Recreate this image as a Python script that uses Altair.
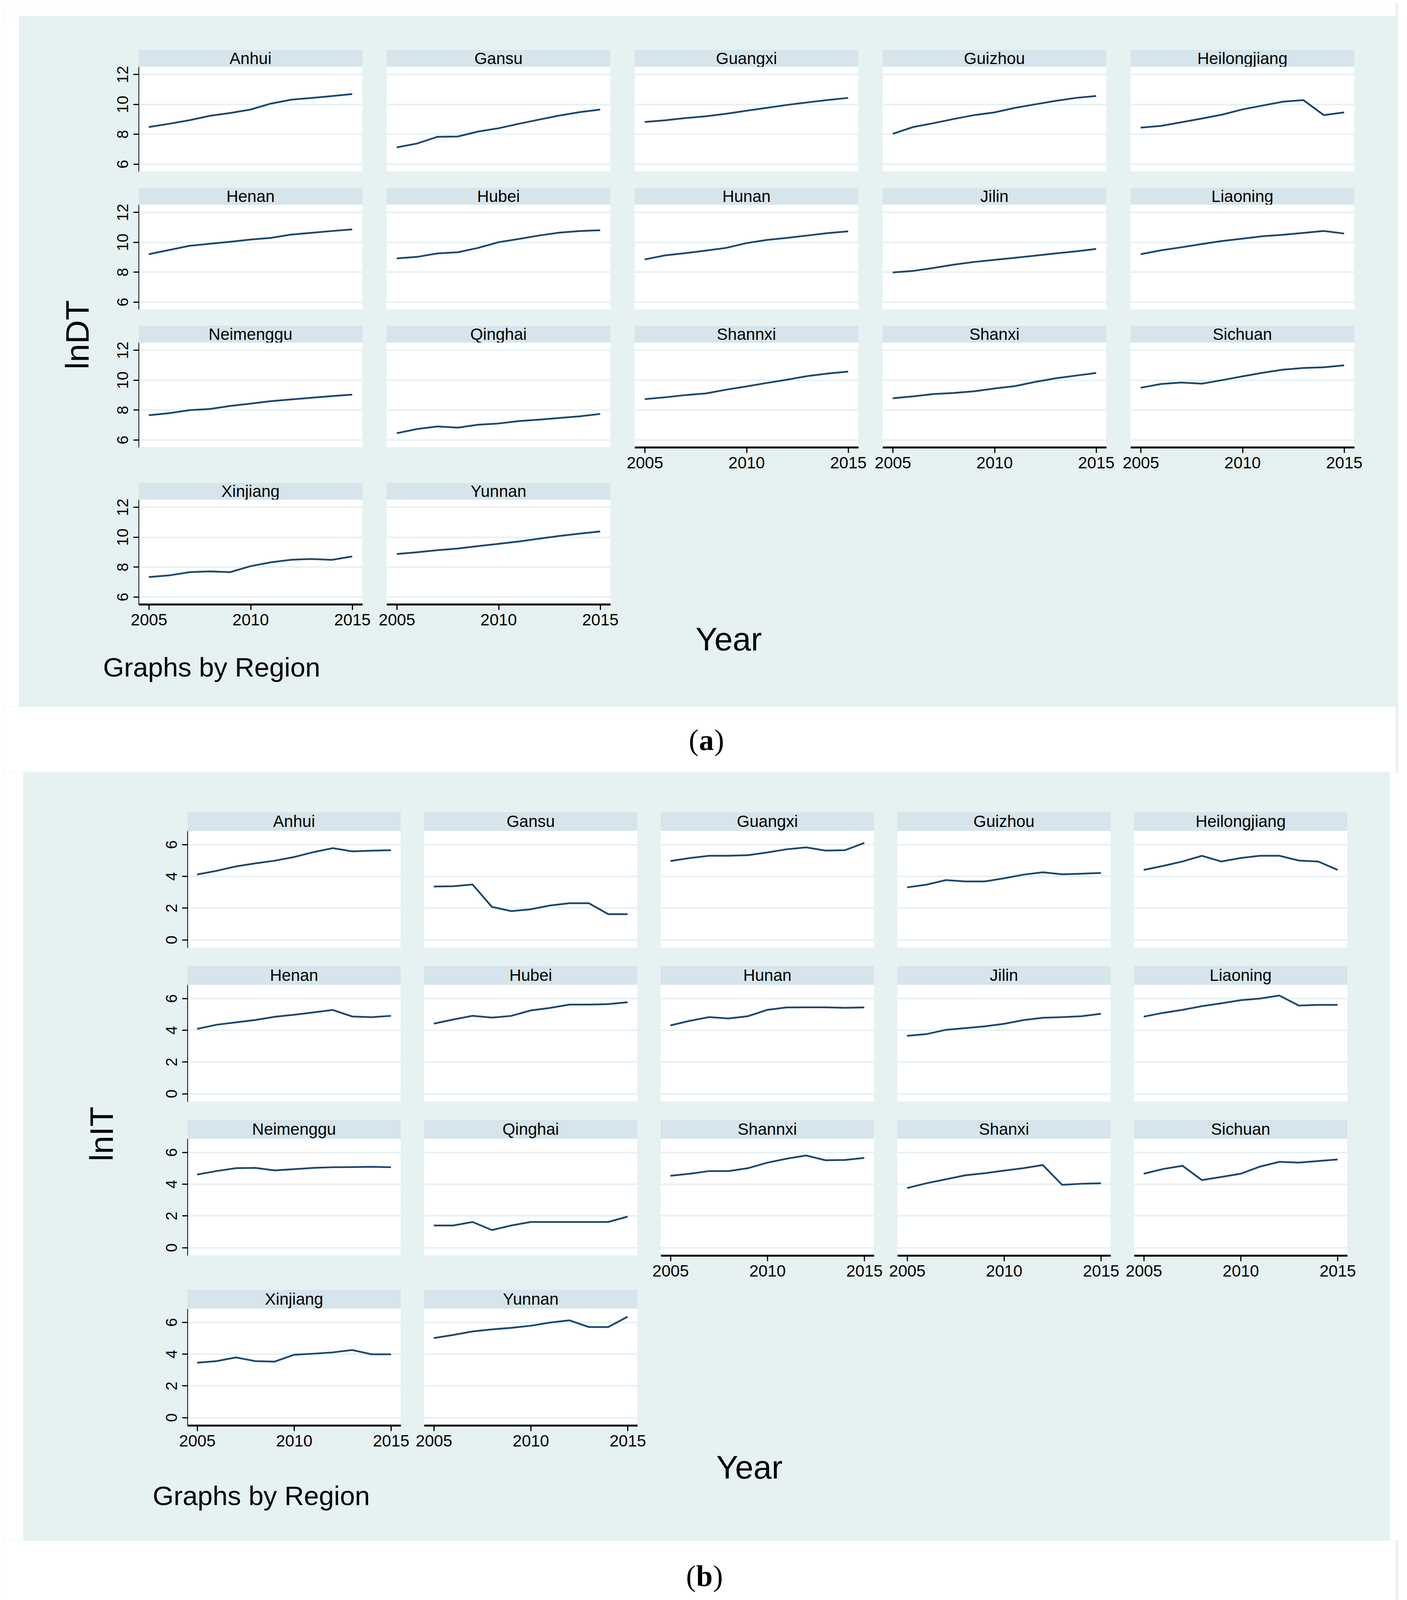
import altair as alt
import pandas as pd

# ---------------- data ----------------
YEARS = list(range(2005, 2016))
REGIONS = ["Anhui", "Gansu", "Guangxi", "Guizhou", "Heilongjiang",
           "Henan", "Hubei", "Hunan", "Jilin", "Liaoning",
           "Neimenggu", "Qinghai", "Shannxi", "Shanxi", "Sichuan",
           "Xinjiang", "Yunnan"]

# lnDT (panel a)
DT_ANHUI = [8.47, 8.69, 8.93, 9.22, 9.41, 9.64, 10.04, 10.30, 10.42, 10.54, 10.68]
DT_GANSU = [7.11, 7.37, 7.82, 7.84, 8.17, 8.39, 8.69, 8.97, 9.24, 9.47, 9.64]
DT_GUANGXI = [8.81, 8.92, 9.07, 9.19, 9.36, 9.56, 9.76, 9.95, 10.12, 10.28, 10.42]
DT_GUIZHOU = [8.02, 8.47, 8.73, 9.01, 9.27, 9.45, 9.75, 9.99, 10.22, 10.42, 10.55]
DT_HEILONGJIANG = [8.43, 8.55, 8.79, 9.04, 9.30, 9.65, 9.91, 10.17, 10.27, 9.27, 9.45]
DT_HENAN = [9.19, 9.47, 9.75, 9.89, 10.02, 10.17, 10.28, 10.50, 10.62, 10.74, 10.85]
DT_HUBEI = [8.91, 9.01, 9.24, 9.32, 9.61, 9.99, 10.21, 10.44, 10.63, 10.74, 10.79]
DT_HUNAN = [8.84, 9.11, 9.26, 9.43, 9.61, 9.93, 10.14, 10.28, 10.44, 10.60, 10.72]
DT_JILIN = [7.97, 8.07, 8.27, 8.49, 8.67, 8.81, 8.95, 9.09, 9.24, 9.38, 9.54]
DT_LIAONING = [9.19, 9.45, 9.65, 9.87, 10.07, 10.23, 10.39, 10.49, 10.61, 10.74, 10.57]
DT_NEIMENGGU = [7.64, 7.78, 7.98, 8.06, 8.26, 8.42, 8.58, 8.70, 8.81, 8.92, 9.02]
DT_QINGHAI = [6.44, 6.72, 6.89, 6.81, 7.01, 7.09, 7.25, 7.35, 7.46, 7.57, 7.73]
DT_SHANNXI = [8.72, 8.84, 8.99, 9.10, 9.35, 9.57, 9.80, 10.02, 10.26, 10.43, 10.56]
DT_SHANXI = [8.78, 8.90, 9.06, 9.13, 9.24, 9.43, 9.59, 9.87, 10.11, 10.29, 10.47]
DT_SICHUAN = [9.48, 9.73, 9.83, 9.75, 9.99, 10.24, 10.48, 10.69, 10.80, 10.85, 10.98]
DT_XINJIANG = [7.32, 7.43, 7.65, 7.70, 7.65, 8.05, 8.31, 8.48, 8.53, 8.47, 8.70]
DT_YUNNAN = [8.86, 8.98, 9.12, 9.23, 9.39, 9.54, 9.70, 9.89, 10.07, 10.23, 10.37]

# lnIT (panel b)
IT_ANHUI = [4.11, 4.34, 4.62, 4.81, 4.98, 5.21, 5.52, 5.77, 5.57, 5.61, 5.64]
IT_GANSU = [3.35, 3.37, 3.48, 2.07, 1.80, 1.92, 2.16, 2.30, 2.30, 1.61, 1.61]
IT_GUANGXI = [4.96, 5.15, 5.29, 5.29, 5.33, 5.50, 5.70, 5.82, 5.62, 5.64, 6.10]
IT_GUIZHOU = [3.30, 3.47, 3.76, 3.67, 3.67, 3.87, 4.10, 4.25, 4.12, 4.16, 4.21]
IT_HEILONGJIANG = [4.40, 4.65, 4.93, 5.29, 4.93, 5.15, 5.29, 5.29, 4.99, 4.93, 4.40]
IT_HENAN = [4.08, 4.34, 4.49, 4.64, 4.84, 4.97, 5.12, 5.27, 4.86, 4.82, 4.90]
IT_HUBEI = [4.41, 4.67, 4.90, 4.79, 4.90, 5.24, 5.40, 5.61, 5.61, 5.64, 5.76]
IT_HUNAN = [4.30, 4.59, 4.82, 4.74, 4.88, 5.28, 5.43, 5.44, 5.44, 5.41, 5.43]
IT_JILIN = [3.64, 3.75, 4.02, 4.13, 4.24, 4.40, 4.63, 4.78, 4.82, 4.88, 5.03]
IT_LIAONING = [4.85, 5.09, 5.28, 5.51, 5.69, 5.89, 5.99, 6.18, 5.55, 5.59, 5.59]
IT_NEIMENGGU = [4.60, 4.82, 5.00, 5.02, 4.86, 4.94, 5.02, 5.06, 5.07, 5.09, 5.06]
IT_QINGHAI = [1.39, 1.39, 1.61, 1.10, 1.39, 1.61, 1.61, 1.61, 1.61, 1.61, 1.95]
IT_SHANNXI = [4.52, 4.65, 4.82, 4.82, 5.00, 5.35, 5.60, 5.80, 5.50, 5.52, 5.65]
IT_SHANXI = [3.75, 4.05, 4.30, 4.55, 4.68, 4.85, 5.00, 5.20, 3.95, 4.02, 4.05]
IT_SICHUAN = [4.65, 4.95, 5.15, 4.25, 4.45, 4.65, 5.10, 5.40, 5.35, 5.45, 5.55]
IT_XINJIANG = [3.45, 3.55, 3.78, 3.55, 3.52, 3.95, 4.02, 4.10, 4.25, 3.98, 3.98]
IT_YUNNAN = [5.00, 5.20, 5.42, 5.55, 5.65, 5.78, 5.98, 6.12, 5.70, 5.70, 6.35]

X_TICKS = [2005, 2010, 2015]
DT_TICKS = [6, 8, 10, 12]
IT_TICKS = [0, 2, 4, 6]

DT = dict(zip(REGIONS, [DT_ANHUI, DT_GANSU, DT_GUANGXI, DT_GUIZHOU, DT_HEILONGJIANG,
                        DT_HENAN, DT_HUBEI, DT_HUNAN, DT_JILIN, DT_LIAONING,
                        DT_NEIMENGGU, DT_QINGHAI, DT_SHANNXI, DT_SHANXI, DT_SICHUAN,
                        DT_XINJIANG, DT_YUNNAN]))
IT = dict(zip(REGIONS, [IT_ANHUI, IT_GANSU, IT_GUANGXI, IT_GUIZHOU, IT_HEILONGJIANG,
                        IT_HENAN, IT_HUBEI, IT_HUNAN, IT_JILIN, IT_LIAONING,
                        IT_NEIMENGGU, IT_QINGHAI, IT_SHANNXI, IT_SHANXI, IT_SICHUAN,
                        IT_XINJIANG, IT_YUNNAN]))

# ---------------- style ----------------
SANS = "Liberation Sans"
SERIF = "Liberation Serif"
TEAL = "#e6f1f1"
STRIP = "#d5e5eb"
GRID = "#e6f1f1"
LINE = "#1a476f"
WHITE = "#ffffff"
TOTAL_W = 3562
FY = 0.924  # vertical fit factor so the whole figure stays inside the visible page


def vy(v):
    return int(round(v * FY))


def blank(w, h, fill="transparent"):
    if fill == WHITE:
        view = alt.ViewBackground(fill=WHITE, stroke=WHITE, strokeWidth=3)
    else:
        view = alt.ViewBackground(fill=fill, stroke="transparent")
    return alt.Chart(pd.DataFrame({"t": [""]})).mark_text().encode(
        text="t:N"
    ).properties(width=w, height=h, view=view)


def text_layer(txt, x, y, size, angle=0, align="center", font=SANS, weight="normal"):
    return alt.Chart(pd.DataFrame({"t": [txt]})).mark_text(
        font=font, fontSize=size, angle=angle, align=align, baseline="middle",
        color="black", fontWeight=weight
    ).encode(text="t:N", x=alt.value(x), y=alt.value(y))


def strip(name, w, h, size):
    return alt.Chart(pd.DataFrame({"region": [name]})).mark_text(
        font=SANS, fontSize=size, color="black", baseline="middle"
    ).encode(text="region:N", x=alt.value(w / 2), y=alt.value(h / 2 + 1)).properties(
        width=w, height=h, view=alt.ViewBackground(fill=STRIP, stroke="transparent"))


def plot_cell(values, ydom, yticks, show_y, show_x, w, h):
    df = pd.DataFrame({"year": YEARS, "value": values})
    yaxis = alt.Axis(values=yticks, grid=True, gridColor=GRID, gridWidth=4,
                     domain=show_y, ticks=show_y, labels=show_y, title=None,
                     domainColor="black", domainWidth=2, tickColor="black",
                     tickWidth=3, tickSize=14, labelAngle=270, labelFontSize=40,
                     labelFont=SANS, labelPadding=6, labelColor="black")
    if show_x:
        xaxis = alt.Axis(values=X_TICKS, format="d", grid=False, title=None,
                         domainColor="black", domainWidth=5, tickColor="black",
                         tickWidth=3, tickSize=14, labelFontSize=42, labelFont=SANS,
                         labelPadding=6, labelColor="black", labelFlush=False)
    else:
        xaxis = None
    return alt.Chart(df).mark_line(color=LINE, strokeWidth=4.5).encode(
        x=alt.X("year:Q", axis=xaxis,
                scale=alt.Scale(domain=[2004.5, 2015.5], nice=False, zero=False)),
        y=alt.Y("value:Q", axis=yaxis,
                scale=alt.Scale(domain=ydom, nice=False, zero=False)),
    ).properties(width=w, height=h,
                 view=alt.ViewBackground(fill=WHITE, stroke="transparent"))


def panel(data, ydom, yticks, ytitle, g):
    rows = [REGIONS[0:5], REGIONS[5:10], REGIONS[10:15], REGIONS[15:17]]
    col_w = [g["left"]]
    for j in range(5):
        if j > 0:
            col_w.append(g["cgap"])
        col_w.append(g["cw"])
    col_w.append(g["right"])

    row_h = [vy(g["top"])]
    row_kind = ["top"]
    for k in range(4):
        if k > 0:
            row_h.append(vy(g["rgap_big"] if k == 3 else g["rgap"]))
            row_kind.append("gap")
        row_h += [vy(g["sh"]), vy(g["ph"])]
        row_kind += [("strip", k), ("plot", k)]
    row_h.append(vy(g["bottom"]))
    row_kind.append("bottom")

    items = []
    for ri, kind in enumerate(row_kind):
        h = row_h[ri]
        for ci, w in enumerate(col_w):
            is_cell_col = ci in (1, 3, 5, 7, 9)
            j = (ci - 1) // 2
            if isinstance(kind, tuple) and is_cell_col and j < len(rows[kind[1]]):
                k = kind[1]
                name = rows[k][j]
                if kind[0] == "strip":
                    items.append(strip(name, w, h, g["strip_fs"]))
                else:
                    show_x = (k == 3) or (k == 2 and j >= 2)
                    items.append(plot_cell(data[name], ydom, yticks, j == 0, show_x, w, h))
            elif kind == "top" and ci == 0:
                items.append(alt.layer(
                    text_layer(ytitle, g["ytitle_x"], vy(g["ytitle_y"]), g["title_fs"],
                               angle=270)
                ).properties(width=w, height=h,
                             view=alt.ViewBackground(fill="transparent", stroke="transparent")))
            elif kind == "bottom" and ci == 0:
                items.append(alt.layer(
                    text_layer("Year", g["year_x"], vy(g["year_y"]), g["title_fs"]),
                    text_layer("Graphs by Region", g["note_x"], vy(g["note_y"]),
                               g["note_fs"], align="left"),
                ).properties(width=w, height=h,
                             view=alt.ViewBackground(fill="transparent", stroke="transparent")))
            else:
                items.append(blank(w, h))
    grid = alt.concat(*items, columns=len(col_w), spacing=0, bounds="flush")
    total_h = sum(row_h)
    parts = [blank(g["lw"], total_h, WHITE), grid]
    if g["rw"] > 0:
        parts.append(blank(g["rw"], total_h, WHITE))
    return alt.hconcat(*parts, spacing=0)


# geometry (pixels) of the two panels
GEOM_A = dict(cw=573, cgap=62, sh=47, ph=290, rgap=45, rgap_big=98, left=305,
              right=107, top=92, bottom=281, lw=37, rw=0, strip_fs=42,
              title_fs=84, note_fs=69, ytitle_x=152, ytitle_y=881,
              year_x=1816, year_y=101, note_x=214, note_y=177)
GEOM_B = dict(cw=546, cgap=60, sh=52, ph=324, rgap=51, rgap_big=95, left=419,
              right=108, top=108, bottom=317, lw=48, rw=17, strip_fs=42,
              title_fs=84, note_fs=69, ytitle_x=203, ytitle_y=1000,
              year_x=1858, year_y=120, note_x=330, note_y=198)

panel_a = panel(DT, [5.5, 12.5], DT_TICKS, "lnDT", GEOM_A)
panel_b = panel(IT, [-0.5, 6.86], IT_TICKS, "lnIT", GEOM_B)


def caption(letter, h, x, y, half):
    yy = vy(y)
    return alt.layer(
        text_layer("(", x - half, yy, 76, align="right", font=SERIF),
        text_layer(letter, x, yy, 76, font=SERIF, weight="bold"),
        text_layer(")", x + half, yy, 76, align="left", font=SERIF),
    ).properties(width=TOTAL_W, height=vy(h),
                 view=alt.ViewBackground(fill=WHITE, stroke=WHITE, strokeWidth=3))


chart = alt.vconcat(
    blank(TOTAL_W, vy(31), WHITE),
    panel_a,
    caption("a", 177, 1799, 93, 20),
    panel_b,
    caption("b", 182, 1794, 98, 22),
    spacing=0,
).properties(background=TEAL, padding=0).configure_view(strokeWidth=0)

chart.save("out.html", embed_options={"renderer": "svg", "actions": False})
